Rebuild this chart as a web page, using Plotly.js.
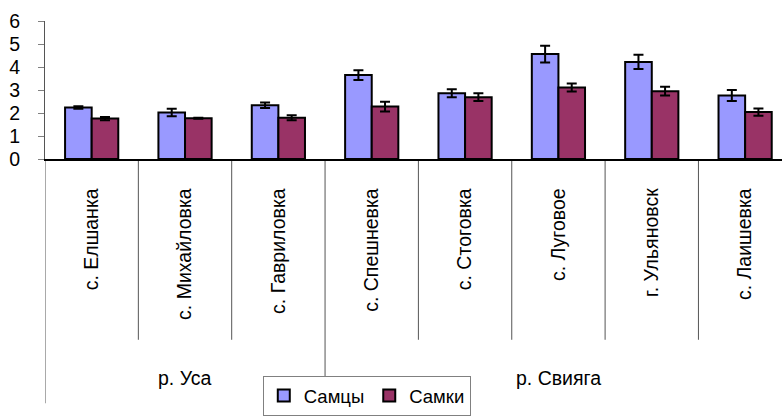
<!DOCTYPE html>
<html>
<head>
<meta charset="utf-8">
<script src="https://cdn.plot.ly/plotly-3.0.1.min.js"></script>
<style>html,body{margin:0;padding:0;background:#fff;}#chart{width:782px;height:416px;}</style>
</head>
<body>
<div id="chart"></div>
<script>
// Data
const categories = ["с. Елшанка", "с. Михайловка", "с. Гавриловка", "с. Спешневка", "с. Стоговка", "с. Луговое", "г. Ульяновск", "с. Лаишевка"];
const groups = ["р. Уса", "р. Свияга"];
const groupSizes = [3, 5];
const malesName = "Самцы";
const femalesName = "Самки";
const males = [2.24, 2.02, 2.34, 3.65, 2.86, 4.56, 4.22, 2.76];
const malesErr = [0.05, 0.16, 0.12, 0.21, 0.17, 0.36, 0.31, 0.24];
const females = [1.76, 1.77, 1.79, 2.28, 2.69, 3.11, 2.95, 2.04];
const femalesErr = [0.07, 0.02, 0.11, 0.21, 0.17, 0.17, 0.19, 0.16];
const yTicks = [0, 1, 2, 3, 4, 5, 6];

const font = "Liberation Sans, Arial, sans-serif";
const xIdx = categories.map((c, i) => i);

function barTrace(name, y, err, color) {
  return {
    type: "bar", name: name, x: xIdx, y: y,
    marker: {color: color, line: {color: "#000", width: 2}},
    error_y: {type: "data", array: err, visible: true, color: "#000", thickness: 2, width: 5},
    hoverinfo: "skip"
  };
}

const data = [
  barTrace(malesName, males, malesErr, "#9999FF"),
  barTrace(femalesName, females, femalesErr, "#993366")
];

const innerBottom = -1.31, outerBottom = -1.77;
const shapes = [];
let boundaries = [0];
let acc = 0;
groupSizes.forEach(s => { acc += s; boundaries.push(acc); });
for (let i = 0; i <= categories.length; i++) {
  const isGroupEdge = boundaries.includes(i);
  shapes.push({
    type: "line", xref: "x", yref: "paper",
    x0: i - 0.5, x1: i - 0.5, y0: 0, y1: isGroupEdge ? outerBottom : innerBottom,
    line: {color: "#555", width: 1}, layer: "below"
  });
}

const annotations = [];
let start = 0;
groups.forEach((g, k) => {
  const center = start + (groupSizes[k] - 1) / 2;
  annotations.push({
    text: g, xref: "x", yref: "paper", x: center, y: -1.585,
    showarrow: false, xanchor: "center", yanchor: "middle",
    font: {family: font, size: 19.5, color: "#000"}
  });
  start += groupSizes[k];
});

const layout = {
  width: 782, height: 416,
  margin: {l: 45.3, r: 0, t: 20.5, b: 255.5, pad: 0},
  paper_bgcolor: "#fff", plot_bgcolor: "#fff",
  barmode: "group", bargap: 0.43, bargroupgap: 0,
  showlegend: true,
  legend: {
    orientation: "h", x: 0.2955, xanchor: "left", y: -1.565, yanchor: "top",
    bgcolor: "#fff", bordercolor: "#808080", borderwidth: 1,
    font: {family: font, size: 18.5, color: "#000"},
    itemwidth: 30, traceorder: "normal"
  },
  xaxis: {
    type: "linear", range: [-0.5, 7.395],
    tickmode: "array", tickvals: xIdx, ticktext: categories,
    tickangle: -90, ticks: "", showgrid: false, zeroline: false,
    showline: true, linecolor: "#000", linewidth: 1.5,
    ticklabelstandoff: 20,
    tickfont: {family: font, size: 19.5, color: "#000"}
  },
  yaxis: {
    range: [0, 6], tickvals: yTicks, ticks: "outside", ticklen: 6, tickcolor: "#808080",
    showgrid: false, zeroline: false, showline: true, linecolor: "#555", linewidth: 1,
    ticklabelstandoff: 14,
    tickfont: {family: font, size: 19.5, color: "#000"}
  },
  shapes: shapes,
  annotations: annotations
};

Plotly.newPlot("chart", data, layout, {staticPlot: true, displayModeBar: false});
</script>
</body>
</html>
